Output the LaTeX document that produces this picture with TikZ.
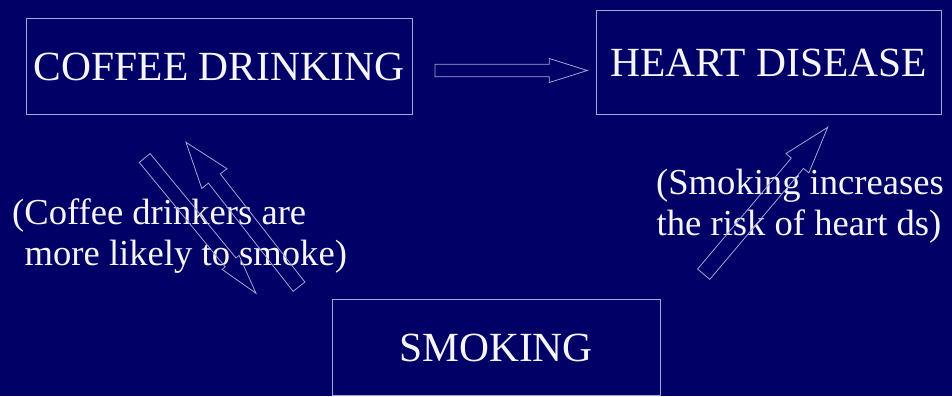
\documentclass[tikz,border=0pt]{standalone}
\usepackage{fontspec}
\setmainfont{Liberation Serif}
\usetikzlibrary{calc}
\definecolor{bgnavy}{RGB}{0,0,102}
\definecolor{edgecol}{RGB}{165,165,215}
\definecolor{txtcol}{RGB}{245,245,250}
% block arrow: #1 start, #2 tip, #3 half shaft width, #4 half head width, #5 head length
\newcommand\blockarr[5]{%
  \coordinate (hbase) at ($(#2)!#5!(#1)$);
  \draw[arrowline] ($(#1)!#3!90:(#2)$) -- ($(hbase)!#3!90:(#2)$) -- ($(hbase)!#4!90:(#2)$) -- (#2)
    -- ($(hbase)!#4!-90:(#2)$) -- ($(hbase)!#3!-90:(#2)$) -- ($(#1)!#3!-90:(#2)$) -- cycle;
}
\begin{document}
\begin{tikzpicture}[x=1pt,y=1pt,
  box/.style={draw=edgecol, line width=1pt, inner sep=0pt, text=txtcol, font=\fontsize{41.5}{48}\selectfont},
  smalltxt/.style={text=txtcol, inner sep=0pt, anchor=base west, font=\fontsize{36.6}{40}\selectfont},
  arrowline/.style={draw=edgecol, line width=0.8pt, line join=miter}]
\fill[bgnavy] (0,0) rectangle (952,396);
\useasboundingbox (0,0) rectangle (952,396);
\node[box, minimum width=386pt, minimum height=96pt] (coffee) at (219,329) {COFFEE DRINKING\hspace{4pt}};
\node[box, minimum width=345pt, minimum height=104pt] (heart) at (768.5,333.5) {HEART DISEASE\hspace{10pt}};
\node[box, minimum width=328pt, minimum height=95pt] (smoking) at (496,48.5) {SMOKING\hspace{5pt}};
\node[smalltxt] (lt1) at (12,171) {(Coffee drinkers are};
\node[smalltxt] (lt2) at (24.5,130) {more likely to smoke)};
\node[smalltxt] (rt1) at (656,201) {(Smoking increases};
\node[smalltxt] (rt2) at (656.5,160) {the risk of heart ds)};
\coordinate (hs) at (435,325.5);
\coordinate (he) at (587.3,325.5);
\coordinate (us) at (299,109.3);
\coordinate (ue) at (186,253.7);
\coordinate (ds) at (144.7,238);
\coordinate (de) at (256,102.7);
\coordinate (rs) at (703.7,121.8);
\coordinate (re) at (827.7,268.7);
\blockarr{hs}{he}{6.3pt}{12pt}{38pt}
\blockarr{us}{ue}{7.5pt}{16pt}{46pt}
\blockarr{ds}{de}{7pt}{11pt}{40pt}
\blockarr{rs}{re}{8pt}{15pt}{47pt}
\end{tikzpicture}
\end{document}
